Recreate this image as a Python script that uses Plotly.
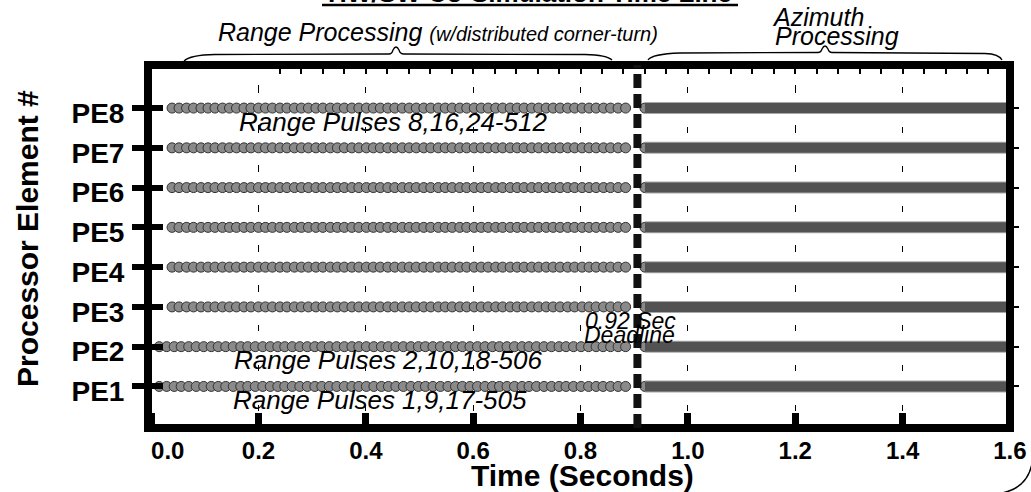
import plotly.graph_objects as go

# ---------------- data ----------------
PE_LABELS = ["PE1", "PE2", "PE3", "PE4", "PE5", "PE6", "PE7", "PE8"]
PE_ROWS = [1, 2, 3, 4, 5, 6, 7, 8]

X_TICKS = [0.0, 0.2, 0.4, 0.6, 0.8, 1.0, 1.2, 1.4, 1.6]
X_TICK_TEXT = ["\u00a0\u00a0\u00a0\u00a0\u00a00.0", "0.2", "0.4", "0.6", "0.8", "1.0", "1.2", "1.4", "1.6"]

# range-pulse completion times (s)
PULSES_PE1_PE2 = [
    0.015, 0.029, 0.043, 0.056, 0.070, 0.084, 0.098, 0.112, 0.125, 0.139,
    0.153, 0.167, 0.180, 0.194, 0.208, 0.222, 0.236, 0.249, 0.263, 0.277,
    0.291, 0.305, 0.318, 0.332, 0.346, 0.360, 0.374, 0.387, 0.401, 0.415,
    0.429, 0.442, 0.456, 0.470, 0.484, 0.498, 0.511, 0.525, 0.539, 0.553,
    0.567, 0.580, 0.594, 0.608, 0.622, 0.636, 0.649, 0.663, 0.677, 0.691,
    0.704, 0.718, 0.732, 0.746, 0.760, 0.773, 0.787, 0.801, 0.815, 0.829,
    0.842, 0.856, 0.870, 0.884]
PULSES_PE3_PE8 = [
    0.039, 0.052, 0.066, 0.079, 0.093, 0.106, 0.119, 0.133, 0.146, 0.159,
    0.173, 0.186, 0.200, 0.213, 0.226, 0.240, 0.253, 0.267, 0.280, 0.293,
    0.307, 0.320, 0.334, 0.347, 0.360, 0.374, 0.387, 0.401, 0.414, 0.427,
    0.441, 0.454, 0.468, 0.481, 0.494, 0.508, 0.521, 0.535, 0.548, 0.561,
    0.575, 0.588, 0.602, 0.615, 0.628, 0.642, 0.655, 0.669, 0.682, 0.695,
    0.709, 0.722, 0.736, 0.749, 0.762, 0.776, 0.789, 0.803, 0.816, 0.829,
    0.843, 0.856, 0.870, 0.884]
ROW_PULSES = [PULSES_PE1_PE2, PULSES_PE1_PE2] + [PULSES_PE3_PE8] * 6

AZ_START = [0.920, 0.920, 0.920, 0.920, 0.920, 0.920, 0.920, 0.920]
AZ_END = [1.600, 1.600, 1.600, 1.600, 1.600, 1.600, 1.600, 1.600]

DEADLINE = 0.906

# ---------------- geometry / style ----------------
W, H = 1031, 492
ML, MR, MT, MB = 148, 21, 65, 64
PW, PH = W - ML - MR, H - MT - MB
X_RANGE = [-0.0058, 1.6001]
Y_RANGE = [-0.045, 9.083]
FONT = "Liberation Sans, Arial, sans-serif"


def px(x, y):
    """pixel -> paper coordinates"""
    return (x - ML) / PW, (H - MB - y) / PH


def path(points):
    out = []
    for cmd, pts in points:
        coords = []
        for (x, y) in pts:
            a, b = px(x, y)
            coords.append(f"{a:.5f},{b:.5f}")
        out.append(cmd + " ".join(coords))
    return " ".join(out)


fig = go.Figure()

MARKER = dict(size=10, color="#8a8a8a", line=dict(color="#333333", width=1))

for row, pulses, a0, a1 in zip(PE_ROWS, ROW_PULSES, AZ_START, AZ_END):
    fig.add_trace(go.Scatter(x=pulses, y=[row] * len(pulses), mode="markers",
                             marker=MARKER, hoverinfo="skip", showlegend=False))
    fig.add_trace(go.Scatter(x=[a0], y=[row], mode="markers",
                             marker=MARKER, hoverinfo="skip", showlegend=False))
    fig.add_trace(go.Scatter(x=[a0, a1], y=[row, row], mode="lines",
                             line=dict(color="#a8a8a8", width=12),
                             hoverinfo="skip", showlegend=False))
    fig.add_trace(go.Scatter(x=[a0, a1], y=[row, row], mode="lines",
                             line=dict(color="#525252", width=10),
                             hoverinfo="skip", showlegend=False))

shapes = []
# frame
shapes.append(dict(type="rect", xref="paper", yref="paper", x0=0, x1=1, y0=0, y1=1,
                   line=dict(color="black", width=8), layer="above"))
# deadline hatched line
shapes.append(dict(type="line", xref="x", yref="paper", x0=DEADLINE, x1=DEADLINE, y0=0, y1=1,
                   line=dict(color="#111111", width=8, dash="14px,6px"), layer="above"))
# title underline
ux0, uy = px(322, 5)
ux1, _ = px(738, 5)
shapes.append(dict(type="line", xref="paper", yref="paper", x0=ux0, x1=ux1, y0=uy, y1=uy,
                   line=dict(color="black", width=2.5)))
# braces
brace_range = path([
    ("M", [(184, 61)]), ("Q", [(190, 55), (215, 54.5)]), ("L", [(389, 54)]),
    ("Q", [(392, 54), (393, 50)]), ("Q", [(396, 44), (399, 50)]), ("Q", [(400, 54), (404, 54)]),
    ("L", [(585, 54.5)]), ("Q", [(607, 55), (612, 60)])])
brace_az = path([
    ("M", [(648, 60)]), ("Q", [(652, 54), (680, 53)]), ("L", [(818, 52.5)]),
    ("Q", [(821, 52.5), (822, 49)]), ("Q", [(825, 43), (828, 49)]), ("Q", [(829, 52.5), (832, 52.5)]),
    ("L", [(985, 53.5)]), ("Q", [(999, 54), (1002, 60)])])
for p in (brace_range, brace_az):
    shapes.append(dict(type="path", xref="paper", yref="paper", path=p,
                       line=dict(color="black", width=1.3)))
# bottom-right rounded corner of outer frame
shapes.append(dict(type="path", xref="paper", yref="paper",
                   path=path([("M", [(1032, 464)]), ("Q", [(1027, 488), (1002, 493)])]),
                   line=dict(color="black", width=1.5)))

ann = []
ann.append(dict(text="<b>HW/SW Co-Simulation Time Line</b>", xref="paper", yref="paper",
                x=px(530, 0)[0], y=px(0, 10)[1], xanchor="center", yanchor="bottom",
                showarrow=False, font=dict(size=26, color="black")))
ann.append(dict(text="Range Processing <span style='font-size:20px'>(w/distributed corner-turn)</span>",
                xref="paper", yref="paper", x=px(438, 0)[0], y=px(0, 32)[1],
                xanchor="center", yanchor="middle", showarrow=False,
                font=dict(size=25, style="italic", color="black")))
ann.append(dict(text="Azimuth", xref="paper", yref="paper", x=px(818, 0)[0], y=px(0, 17)[1],
                xanchor="center", yanchor="middle", showarrow=False,
                font=dict(size=25, style="italic", color="black")))
ann.append(dict(text="Processing", xref="paper", yref="paper", x=px(837, 0)[0], y=px(0, 36)[1],
                xanchor="center", yanchor="middle", showarrow=False,
                font=dict(size=25, style="italic", color="black")))
ann.append(dict(text="0.92 Sec", xref="paper", yref="paper", x=px(630, 0)[0], y=px(0, 321)[1],
                xanchor="center", yanchor="middle", showarrow=False,
                font=dict(size=23, style="italic", color="black")))
ann.append(dict(text="Deadline", xref="paper", yref="paper", x=px(629, 0)[0], y=px(0, 335)[1],
                xanchor="center", yanchor="middle", showarrow=False,
                font=dict(size=23, style="italic", color="black")))
for txt, xc, yc in [("Range Pulses 8,16,24-512", 0.450, 7.66),
                    ("Range Pulses 2,10,18-506", 0.441, 1.66),
                    ("Range Pulses 1,9,17-505", 0.426, 0.66)]:
    ann.append(dict(text=txt, xref="x", yref="y", x=xc, y=yc, xanchor="center", yanchor="middle",
                    showarrow=False, font=dict(size=26, style="italic", color="black")))
ann.append(dict(text="<b>Time (Seconds)</b>", xref="paper", yref="paper", x=px(582, 0)[0],
                y=px(0, 475)[1], xanchor="center", yanchor="middle", showarrow=False,
                font=dict(size=30, color="black")))
ann.append(dict(text="<b>Processor Element #</b>", xref="paper", yref="paper", x=px(28, 0)[0],
                y=px(0, 239)[1], xanchor="center", yanchor="middle", showarrow=False,
                textangle=-90, font=dict(size=30, color="black")))

top_d0 = (0.2 - X_RANGE[0]) / (X_RANGE[1] - X_RANGE[0])

fig.update_layout(
    width=W, height=H,
    margin=dict(l=ML, r=MR, t=MT, b=MB, pad=0, autoexpand=False),
    paper_bgcolor="white", plot_bgcolor="rgba(0,0,0,0)",
    font=dict(family=FONT, color="black"),
    showlegend=False,
    shapes=shapes, annotations=ann,
    xaxis=dict(range=X_RANGE, tickmode="array", tickvals=X_TICKS, ticktext=X_TICK_TEXT,
               ticks="inside", ticklen=15, tickwidth=7, tickcolor="black",
               tickfont=dict(size=24, family=FONT, weight="bold"),
               ticklabelstandoff=6, ticklabeloverflow="allow", automargin=False,
               showgrid=True, gridcolor="black", gridwidth=1.2,
               griddash="0px,22px,6px,11.7px", zeroline=False, showline=False,
               fixedrange=True),
    xaxis2=dict(range=[0.2, X_RANGE[1]], domain=[top_d0, 1], anchor="y", side="top",
                tickmode="linear", tick0=0.2, dtick=0.04, ticks="inside", ticklen=9,
                tickwidth=2, tickcolor="black", showticklabels=False, showgrid=False,
                zeroline=False, showline=False),
    xaxis3=dict(range=X_RANGE, overlaying="x", tickmode="array", tickvals=[0.2, 1.2],
                ticks="", showticklabels=False, showgrid=True, gridcolor="black",
                gridwidth=1.2, griddash="4px,16px", zeroline=False, showline=False),
    yaxis=dict(range=Y_RANGE, tickmode="array", tickvals=PE_ROWS, ticktext=PE_LABELS,
               ticks="outside", ticklen=15, tickwidth=6, tickcolor="black",
               tickfont=dict(size=28, family=FONT, weight="bold"),
               ticklabelshift=5, ticklabelstandoff=2,
               showgrid=False, zeroline=False, showline=False, fixedrange=True),
    yaxis2=dict(range=Y_RANGE, overlaying="y", side="left", anchor="x", tickmode="array",
                tickvals=PE_ROWS, ticks="inside", ticklen=15, tickwidth=6, tickcolor="black",
                showticklabels=False, showgrid=False, zeroline=False, showline=False),
    yaxis3=dict(range=Y_RANGE, overlaying="y", side="right", anchor="x", tickmode="array",
                tickvals=PE_ROWS, ticks="outside", ticklen=8, tickwidth=2, tickcolor="black",
                showticklabels=False, showgrid=False, zeroline=False, showline=False),
)

# invisible traces to activate the extra axes
fig.add_trace(go.Scatter(x=[0.5], y=[1], xaxis="x2", yaxis="y", mode="markers",
                         marker=dict(opacity=0), hoverinfo="skip", showlegend=False))
fig.add_trace(go.Scatter(x=[0.5], y=[1], xaxis="x3", yaxis="y2", mode="markers",
                         marker=dict(opacity=0), hoverinfo="skip", showlegend=False))
fig.add_trace(go.Scatter(x=[0.5], y=[1], xaxis="x", yaxis="y3", mode="markers",
                         marker=dict(opacity=0), hoverinfo="skip", showlegend=False))

fig.write_html("out.html", config={"displayModeBar": False})
